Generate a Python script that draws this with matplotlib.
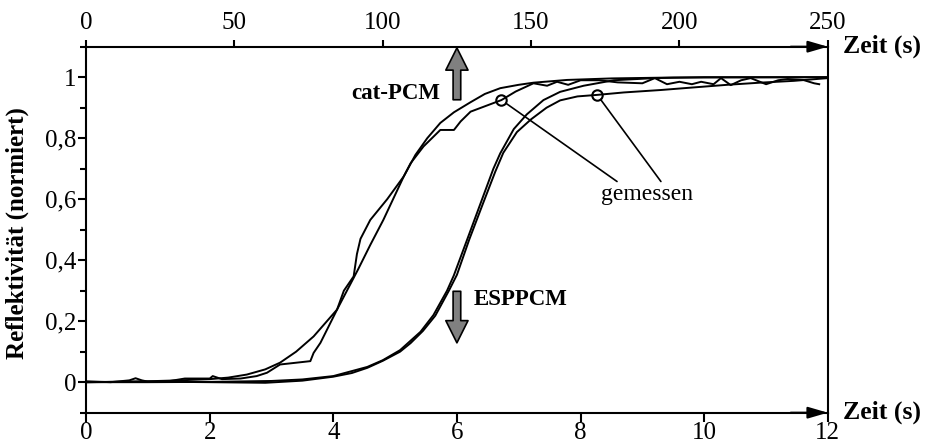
import matplotlib
matplotlib.use("Agg")
import matplotlib.pyplot as plt
from matplotlib.ticker import MultipleLocator

plt.rcParams['font.family'] = ['Liberation Serif', 'DejaVu Serif']

# cat-PCM, obere Zeitachse (s)
t_cat_fit = [0, 20.8, 31.3, 41.7, 47.9, 54.2, 60.4, 65.4, 70.8, 76.7, 84.6, 91.7, 95.8,
             100.2, 107.1, 111.0, 115.0, 119.4, 124.0, 129.6, 134.4, 139.6, 145.8,
             150.8, 162.1, 177.1, 197.9, 250]
r_cat_fit = [0.0, 0.003, 0.006, 0.01, 0.015, 0.025, 0.042, 0.064, 0.1, 0.15, 0.238, 0.37, 0.45,
             0.532, 0.675, 0.745, 0.80, 0.85, 0.885, 0.918, 0.945, 0.964, 0.975,
             0.982, 0.991, 0.996, 0.999, 1.0]

t_cat_mess = [0, 8.3, 14.6, 16.7, 18.8, 20.8, 27.1, 33.3, 41.7, 42.7, 45.8, 52.1, 57.5, 61.0,
              65.4, 75.6, 76.7, 79.0, 84.6, 86.9, 90.2, 91.3, 92.5, 95.8, 101.5, 107.1,
              109.4, 113.75, 119.4, 124.0, 126.25, 129.6, 140.0, 144.8, 150.8, 155.4,
              158.75, 162.5, 166.7, 172.9, 179.2, 187.5, 191.7, 195.8, 200, 204.2, 207.3,
              211.5, 214, 217.3, 220.8, 224, 229.2, 233.3, 236.5, 241.7, 245.4, 247.1]
r_cat_mess = [0.003, 0.0, 0.006, 0.013, 0.006, 0.002, 0.002, 0.012, 0.012, 0.02, 0.01, 0.012,
              0.02, 0.031, 0.058, 0.069, 0.096, 0.129, 0.238, 0.30, 0.347, 0.42, 0.47,
              0.532, 0.6, 0.675, 0.718, 0.773, 0.827, 0.827, 0.855, 0.887, 0.925, 0.953,
              0.98, 0.972, 0.985, 0.975, 0.99, 0.99, 0.983, 0.98, 0.997, 0.977, 0.985,
              0.977, 0.985, 0.977, 0.997, 0.974, 0.99, 0.997, 0.977, 0.99, 0.994, 0.991,
              0.98, 0.977]

# ESPPCM, untere Zeitachse (s)
t_esp_fit = [0, 1, 2, 3, 3.5, 4.0, 4.55, 4.8, 5.08, 5.41, 5.62, 5.84, 5.95, 6.17, 6.38,
             6.59, 6.70, 6.92, 7.13, 7.40, 7.67, 8.05, 8.54, 9.2, 10, 12]
r_esp_fit = [0, 0, 0.001, 0.004, 0.009, 0.02, 0.05, 0.072, 0.105, 0.165, 0.22, 0.3, 0.35,
             0.47, 0.585, 0.70, 0.75, 0.83, 0.878, 0.925, 0.952, 0.972, 0.99, 0.997, 1.0, 1.0]

t_esp_mess = [0, 1, 2, 2.9, 3.5, 4.0, 4.3, 4.55, 4.8, 5.08, 5.25, 5.45, 5.65, 5.87, 6.0,
              6.2, 6.42, 6.62, 6.75, 6.97, 7.2, 7.45, 7.67, 7.95, 8.27, 8.7, 9.3, 9.8,
              10.37, 10.9, 11.45, 12.0]
r_esp_mess = [0.0, 0.002, 0.0, -0.002, 0.005, 0.018, 0.03, 0.047, 0.07, 0.1, 0.128, 0.168,
              0.218, 0.3, 0.352, 0.468, 0.585, 0.69, 0.752, 0.82, 0.862, 0.9, 0.924, 0.937,
              0.942, 0.95, 0.958, 0.966, 0.975, 0.982, 0.988, 0.997]

# markierte Messpunkte ("gemessen")
kreis_cat = (140, 0.925)   # obere Achse
kreis_esp = (8.27, 0.942)  # untere Achse
gemessen_pos = (9.08, 0.615)
linie_cat_ende = (8.59, 0.658)
linie_esp_ende = (9.30, 0.658)

x_ticks_unten = [0, 2, 4, 6, 8, 10, 12]
x_ticks_oben = [0, 50, 100, 150, 200, 250]
y_ticks = [0, 0.2, 0.4, 0.6, 0.8, 1]
y_labels = ["0", "0,2", "0,4", "0,6", "0,8", "1"]

fig = plt.figure(figsize=(9.27, 4.46), dpi=100)
ax = fig.add_axes([0.0928, 0.0747, 0.8002, 0.8206])
ax2 = ax.twiny()

ax.plot(t_esp_fit, r_esp_fit, color='black', lw=1.4)
ax.plot(t_esp_mess, r_esp_mess, color='black', lw=1.4)
ax2.plot(t_cat_fit, r_cat_fit, color='black', lw=1.4)
ax2.plot(t_cat_mess, r_cat_mess, color='black', lw=1.4)

ax.set_xlim(0, 12)
ax2.set_xlim(0, 250)
ax.set_ylim(-0.1, 1.1)

ax.set_xticks(x_ticks_unten)
ax2.set_xticks(x_ticks_oben)
ax.set_yticks(y_ticks)
ax.set_yticklabels(y_labels)
ax.yaxis.set_minor_locator(MultipleLocator(0.1))

for s in ['left', 'bottom', 'right']:
    ax.spines[s].set_linewidth(1.5)
ax.spines['top'].set_visible(False)
for s in ['left', 'bottom', 'right']:
    ax2.spines[s].set_visible(False)
ax2.spines['top'].set_linewidth(1.5)

ax.tick_params(axis='x', direction='out', length=6.5, width=1.5, pad=0.5, labelsize=18)
ax.tick_params(axis='y', which='major', direction='out', length=5.5, width=1.5, pad=1.5, labelsize=18)
ax.tick_params(axis='y', which='minor', direction='out', length=4.5, width=1.5)
ax2.tick_params(axis='x', direction='out', length=5, width=1.5, pad=4, labelsize=18)

ax.set_ylabel('Reflektivität (normiert)', fontsize=18, fontweight='bold')
ax.yaxis.set_label_coords(-0.077, 0.49)

# Pfeile an den Zeitachsen
pfeil = dict(arrowstyle='-|>,head_length=1.2,head_width=0.35', mutation_scale=10,
             fc='black', ec='black', lw=1.5, shrinkA=0, shrinkB=0)
ax.annotate('', xy=(1, 0), xycoords='axes fraction', xytext=(0.95, 0), arrowprops=pfeil)
ax2.annotate('', xy=(1, 1), xycoords='axes fraction', xytext=(0.95, 1), arrowprops=pfeil)
ax.text(1.02, 0.0, 'Zeit (s)', transform=ax.transAxes, fontsize=18.5, fontweight='bold',
        ha='left', va='center')
ax2.text(1.02, 1.0, 'Zeit (s)', transform=ax2.transAxes, fontsize=18.5, fontweight='bold',
         ha='left', va='center')

# graue Pfeile
grau = dict(arrowstyle='simple,head_length=1.6,head_width=1.6,tail_width=0.55',
            mutation_scale=10, fc='#808080', ec='black', lw=1.2, shrinkA=0, shrinkB=0)
ax2.annotate('', xy=(125, 1.096), xytext=(125, 0.926), arrowprops=grau)
ax.annotate('', xy=(6.0, 0.129), xytext=(6.0, 0.298), arrowprops=grau)
ax2.text(119.5, 0.947, 'cat-PCM', fontsize=16.5, fontweight='bold', ha='right', va='center')
ax.text(6.27, 0.272, 'ESPPCM', fontsize=16.5, fontweight='bold', ha='left', va='center')

# gemessen
ax2.plot(*kreis_cat, marker='o', ms=7.5, mfc='none', mec='black', mew=1.5)
ax.plot(*kreis_esp, marker='o', ms=7.5, mfc='none', mec='black', mew=1.5)
linie = dict(arrowstyle='-', color='black', lw=1.2, shrinkA=0, shrinkB=4)
ax2.annotate('', xy=kreis_cat, xytext=linie_cat_ende, textcoords=ax.transData, arrowprops=linie)
ax.annotate('', xy=kreis_esp, xytext=linie_esp_ende, arrowprops=linie)
ax.text(*gemessen_pos, 'gemessen', fontsize=17, ha='center', va='center')

fig.savefig('out.png', dpi=100)
